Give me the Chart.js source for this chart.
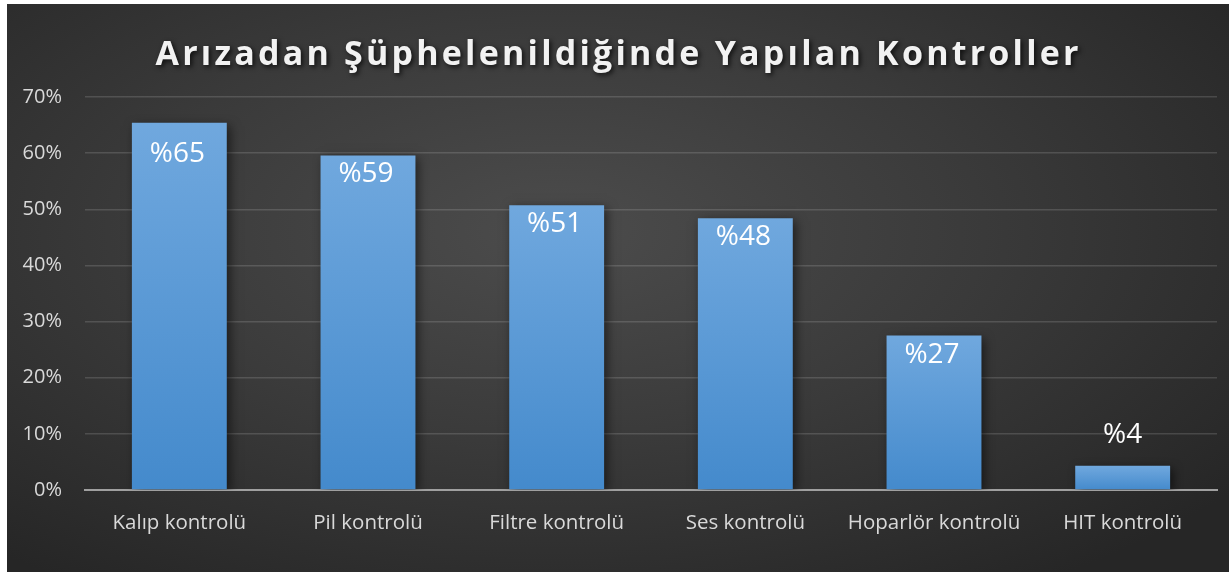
<!DOCTYPE html>
<html><head><meta charset="utf-8">
<script src="https://cdn.jsdelivr.net/npm/chart.js@4.4.1/dist/chart.umd.min.js"></script>
<style>
html,body{margin:0;padding:0;background:#fff;}
#box{position:absolute;left:7px;top:4px;width:1222px;height:568px;
background:radial-gradient(ellipse 70% 75% at 45% 40%, #4c4c4c 0%, #3a3a3a 50%, #262626 100%);}
canvas{display:block;}
</style></head>
<body><div id="box"><canvas id="c" width="1222" height="568"></canvas></div>
<script>
const titleText = 'Arızadan Şüphelenildiğinde Yapılan Kontroller';
const categories = ['Kalıp kontrolü','Pil kontrolü','Filtre kontrolü','Ses kontrolü','Hoparlör kontrolü','HIT kontrolü'];
const values = [65.4, 59.6, 50.7, 48.4, 27.5, 4.3];
const valueLabels = ['%65','%59','%51','%48','%27','%4'];
const yTicks = [0,10,20,30,40,50,60,70];
const FONT = '"Open Sans", Lato, sans-serif';

const titlePlugin = {
  id:'customTitle',
  afterDraw(chart){
    const ctx = chart.ctx;
    ctx.save();
    ctx.font = 'bold 34px ' + FONT;
    ctx.letterSpacing = '0px';
    const w0 = ctx.measureText(titleText).width;
    const target = 923;
    const sp = (target - w0) / (titleText.length - 1);
    ctx.letterSpacing = sp + 'px';
    ctx.fillStyle = '#f2f2f2';
    ctx.textBaseline = 'middle';
    ctx.textAlign = 'left';
    ctx.shadowColor = 'rgba(0,0,0,0.75)';
    ctx.shadowBlur = 5; ctx.shadowOffsetX = 2; ctx.shadowOffsetY = 2;
    ctx.fillText(titleText, 610 - target/2, 51);
    ctx.restore();
  }
};
const shadowPlugin = {
  id:'barShadow',
  beforeDatasetsDraw(chart){
    const ctx = chart.ctx; ctx.save();
    ctx.shadowColor='rgba(0,0,0,0.55)'; ctx.shadowBlur=10; ctx.shadowOffsetX=3; ctx.shadowOffsetY=3;
  },
  afterDatasetsDraw(chart){
    chart.ctx.restore();
    const ctx = chart.ctx;
    const meta = chart.getDatasetMeta(0);
    const top = chart.chartArea.top;
    ctx.save();
    ctx.font = '28px ' + FONT;
    ctx.fillStyle = '#ffffff';
    ctx.textAlign = 'center';
    ctx.textBaseline = 'middle';
    meta.data.forEach((bar,i)=>{
      const inside = values[i] > 10;
      const y = inside ? Math.max(bar.y + 19, top + 57) : bar.y - 31;
      ctx.fillText(valueLabels[i], bar.x - (inside ? 2 : 0), y);
    });
    ctx.restore();
  }
};

new Chart(document.getElementById('c'), {
  type:'bar',
  data:{labels:categories, datasets:[{
    data:values,
    backgroundColor(ctx){
      const chart = ctx.chart; const ca = chart.chartArea;
      if(!ca) return '#5b9bd5';
      const ys = chart.scales.y;
      const top = ys.getPixelForValue(values[ctx.dataIndex]);
      const bot = ys.getPixelForValue(0);
      const g = chart.ctx.createLinearGradient(0, top, 0, bot);
      g.addColorStop(0,'#70a8de'); g.addColorStop(1,'#448acc');
      return g;
    },
    borderWidth:0,
    barPercentage:1, categoryPercentage:0.503
  }]},
  options:{
    responsive:false, animation:false,
    layout:{padding:{top:93,right:12,left:0,bottom:0}},
    plugins:{legend:{display:false}, title:{display:false}, tooltip:{enabled:false}},
    scales:{
      x:{
        grid:{display:false, drawTicks:false},
        border:{display:true, color:'#a0a0a0', width:2},
        ticks:{color:'#d9d9d9', font:{family:FONT, size:20.5}, padding:21, maxRotation:0},
        afterFit(s){ s.height = 82; }
      },
      y:{
        min:0, max:70,
        afterBuildTicks(s){ s.ticks = yTicks.map(v=>({value:v})); },
        grid:{color:'rgba(255,255,255,0.14)', lineWidth:1.5, drawTicks:false},
        border:{display:false},
        ticks:{color:'#d9d9d9', font:{family:FONT, size:20}, padding:23, callback:v=>v+'%'},
        afterFit(s){ s.width = 78; }
      }
    }
  },
  plugins:[shadowPlugin, titlePlugin]
});
</script></body></html>
